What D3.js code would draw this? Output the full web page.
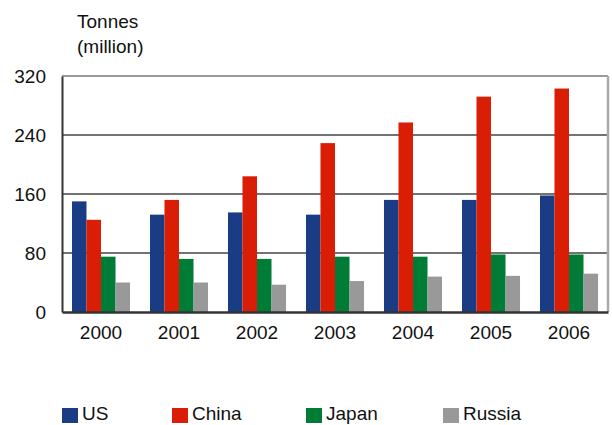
<!DOCTYPE html>
<html>
<head>
<meta charset="utf-8">
<script src="https://cdn.jsdelivr.net/npm/d3@7"></script>
<style>
  body { margin: 0; background: #fff; }
  text { font-family: "Liberation Sans", Arial, sans-serif; fill: #111; }
</style>
</head>
<body>
<div id="chart"></div>
<script>
const years = ["2000", "2001", "2002", "2003", "2004", "2005", "2006"];
const countries = ["US", "China", "Japan", "Russia"];
const us     = [150, 132, 135, 132, 152, 152, 158];
const china  = [125, 152, 184, 229, 257, 292, 303];
const japan  = [75, 72, 72, 75, 75, 78, 78];
const russia = [40, 40, 37, 42, 48, 49, 52];
const yTicks = [0, 80, 160, 240, 320];
const colors = ["#193c85", "#d91e05", "#007c36", "#999999"];

const series = [us, china, japan, russia];
const rows = years.map((yr, i) => ({ year: yr, values: series.map(s => s[i]) }));

var margin = {top: 76, right: 4, bottom: 113, left: 62},
  width = 612 - margin.left - margin.right,
  height = 425 - margin.top - margin.bottom;

const svg = d3.select("#chart")
  .append("svg")
  .attr("width", 612)
  .attr("height", 425);

const g = svg.append("g")
  .attr("transform", "translate(" + margin.left + "," + margin.top + ")");

const x0 = d3.scaleBand()
  .domain(years)
  .range([0, width])
  .paddingInner(0.256)
  .paddingOuter(0.128);

const x1 = d3.scaleBand()
  .domain(countries)
  .range([0, x0.bandwidth()]);

const y = d3.scaleLinear()
  .domain([0, 320])
  .range([height, 0]);

// gridlines
g.selectAll(".grid")
  .data(yTicks.filter(t => t > 0 && t < 320))
  .enter().append("line")
  .attr("x1", 0).attr("x2", width)
  .attr("y1", d => y(d)).attr("y2", d => y(d))
  .attr("stroke", "#444").attr("stroke-width", 1.5);

// frame top + right (grey)
g.append("line").attr("x1", 0).attr("x2", width).attr("y1", 0).attr("y2", 0)
  .attr("stroke", "#999").attr("stroke-width", 2);
g.append("line").attr("x1", width).attr("x2", width).attr("y1", 0).attr("y2", height)
  .attr("stroke", "#aaa").attr("stroke-width", 2.5);

// bars
g.selectAll(".year")
  .data(rows)
  .enter().append("g")
  .attr("transform", d => "translate(" + x0(d.year) + ",0)")
  .selectAll("rect")
  .data(d => d.values.map((v, i) => ({ key: countries[i], value: v })))
  .enter().append("rect")
  .attr("x", d => x1(d.key))
  .attr("width", x1.bandwidth())
  .attr("y", d => y(d.value))
  .attr("height", d => height - y(d.value))
  .attr("fill", (d, i) => colors[i]);

// Y axis
const yAxis = g.append("g")
  .call(d3.axisLeft(y).tickValues(yTicks).tickSize(0).tickPadding(16));
yAxis.select(".domain").attr("stroke", "#333").attr("stroke-width", 2);
yAxis.selectAll("text").style("font-size", "19px").attr("fill", "#111");

// X axis
const xAxis = g.append("g")
  .attr("transform", "translate(0," + height + ")")
  .call(d3.axisBottom(x0).tickSize(0).tickPadding(14));
xAxis.select(".domain").attr("stroke", "#333").attr("stroke-width", 2.5);
xAxis.selectAll("text").style("font-size", "19px").attr("fill", "#111");

// unit label
svg.append("text").attr("x", 77).attr("y", 28).style("font-size", "19px").text("Tonnes");
svg.append("text").attr("x", 77).attr("y", 53).style("font-size", "19px").text("(million)");

// legend
const legendX = [62, 172, 306, 443];
const legend = svg.selectAll(".legend")
  .data(countries)
  .enter().append("g")
  .attr("transform", (d, i) => "translate(" + legendX[i] + ",408)");
legend.append("rect")
  .attr("width", 16).attr("height", 15)
  .attr("fill", (d, i) => colors[i]);
legend.append("text")
  .attr("x", 20).attr("y", 12)
  .style("font-size", "19px")
  .text(d => d);
</script>
</body>
</html>
